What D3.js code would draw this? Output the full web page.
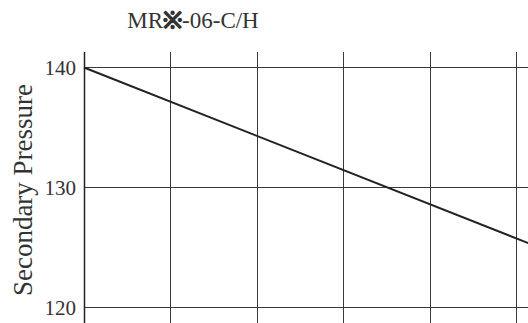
<!DOCTYPE html>
<html>
<head>
<meta charset="utf-8">
<script src="https://cdn.jsdelivr.net/npm/d3@7"></script>
<style>
  body { margin: 0; background: #fff; }
  svg { display: block; }
</style>
</head>
<body>
<script>
const W = 528, H = 323;

// chart values
const titleParts = ["MR", "\u203B", "-06-C/H"];
const yLabel = "Secondary Pressure";
const xGrid = [0, 1, 2, 3, 4, 5];
const yTicks = [120, 130, 140];
const linePts = [[0, 140], [5.2, 125.2]];

const svg = d3.select("body").append("svg")
    .attr("width", W)
    .attr("height", H);

const x = d3.scaleLinear()
    .domain([0, 5])
    .range([84, 516]);

const y = d3.scaleLinear()
    .domain([120, 140])
    .range([307.5, 67.5]);

const gGrid = svg.append("g");

// vertical grid
gGrid.selectAll("line.v")
    .data(xGrid)
    .enter()
    .append("line")
    .attr("class", "v")
    .attr("x1", d => Math.round(x(d)) + 0.5)
    .attr("x2", d => Math.round(x(d)) + 0.5)
    .attr("y1", 52)
    .attr("y2", H)
    .style("stroke", "#3a3a3a")
    .style("stroke-width", 1);

// horizontal grid
gGrid.selectAll("line.h")
    .data(yTicks)
    .enter()
    .append("line")
    .attr("class", "h")
    .attr("x1", x(0))
    .attr("x2", W)
    .attr("y1", d => y(d))
    .attr("y2", d => y(d))
    .style("stroke", "#3a3a3a")
    .style("stroke-width", 1);

// y axis line
svg.append("line")
    .attr("x1", x(0) + 0.5)
    .attr("x2", x(0) + 0.5)
    .attr("y1", 52)
    .attr("y2", H)
    .style("stroke", "#222")
    .style("stroke-width", 1.5);

// tick labels
svg.selectAll("text.tick")
    .data(yTicks)
    .enter()
    .append("text")
    .attr("class", "tick")
    .attr("x", 76)
    .attr("y", d => y(d))
    .attr("dy", "0.35em")
    .attr("text-anchor", "end")
    .style("font-family", "'Liberation Serif', 'Times New Roman', serif")
    .style("font-size", "21px")
    .style("fill", "#333")
    .text(d => d);

// data line
const line = d3.line()
    .x(d => x(d[0]))
    .y(d => y(d[1]));

svg.append("path")
    .datum(linePts)
    .attr("d", line)
    .style("fill", "none")
    .style("stroke", "#222")
    .style("stroke-width", 2);

// title
const t = svg.append("text")
    .attr("x", 193)
    .attr("y", 28)
    .attr("text-anchor", "middle")
    .style("font-family", "'Liberation Serif', 'Times New Roman', serif")
    .style("font-size", "23px")
    .style("fill", "#333");

t.selectAll("tspan")
    .data(titleParts)
    .enter()
    .append("tspan")
    .style("font-weight", (d, i) => i === 1 ? "bold" : "normal")
    .style("stroke", (d, i) => i === 1 ? "#333" : "none")
    .style("stroke-width", 0.8)
    .text(d => d);

// y label
svg.append("text")
    .attr("transform", "translate(32, 190) rotate(-90)")
    .attr("text-anchor", "middle")
    .style("font-family", "'Liberation Serif', 'Times New Roman', serif")
    .style("font-size", "27px")
    .style("fill", "#333")
    .text(yLabel);
</script>
</body>
</html>
